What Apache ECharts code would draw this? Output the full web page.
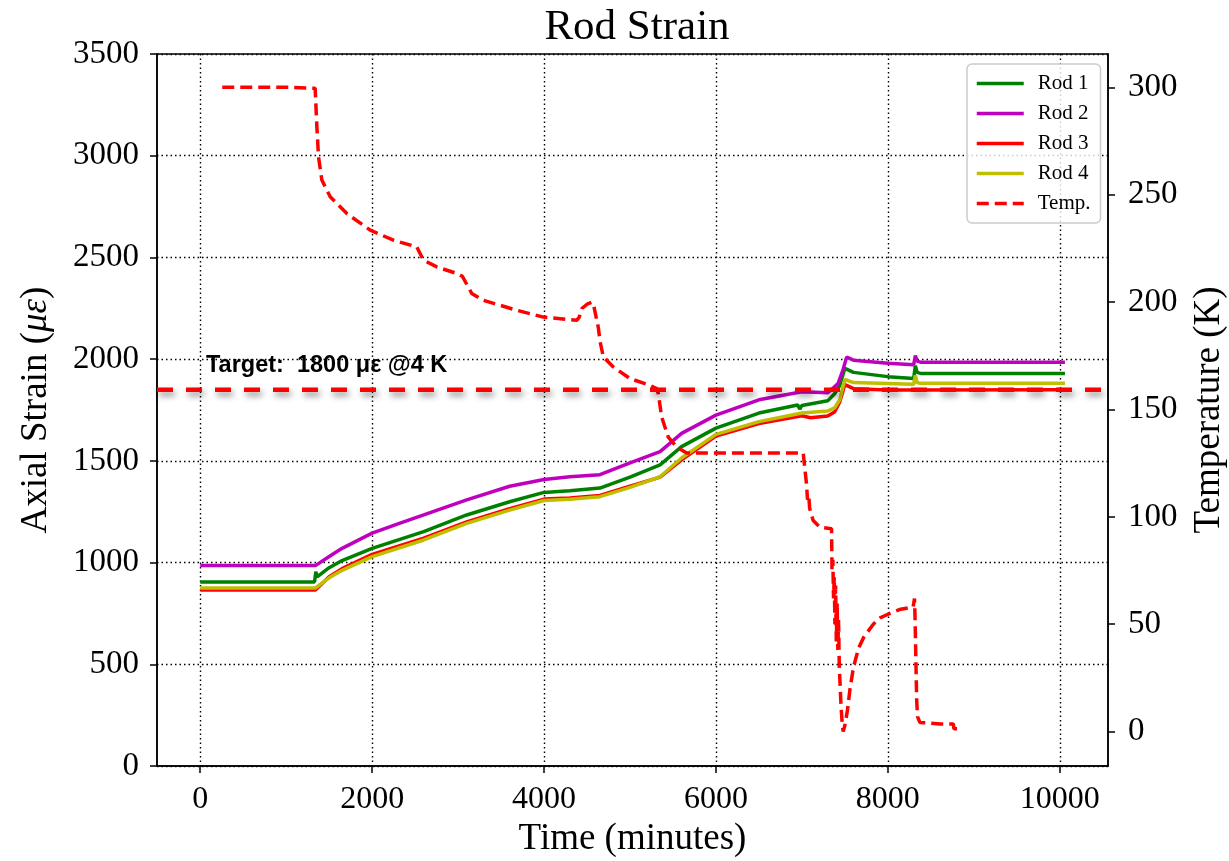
<!DOCTYPE html>
<html>
<head>
<meta charset="utf-8">
<script src="https://cdn.jsdelivr.net/npm/echarts@6/dist/echarts.min.js"></script>
<style>
html,body{margin:0;padding:0;background:#fff;}
#chart{width:1229px;height:861px;}
</style>
</head>
<body>
<div id="chart"></div>
<script>
// ---------- data ----------
const xTicks = [0, 2000, 4000, 6000, 8000, 10000];
const yLeftTicks = [0, 500, 1000, 1500, 2000, 2500, 3000, 3500];
const yRightTicks = [0, 50, 100, 150, 200, 250, 300];

const rod1Time = [0, 1330, 1345, 1360, 1380, 1500, 1650, 2000, 2600, 3100, 3600, 4000, 4300, 4650, 5000, 5350, 5600, 6000, 6500, 6950, 6975, 7000, 7300, 7380, 7440, 7500, 7600, 8000, 8300, 8320, 8340, 8380, 10060];
const rod1Strain = [905, 905, 955, 930, 925, 975, 1010, 1070, 1152, 1234, 1299, 1345, 1353, 1366, 1420, 1480, 1570, 1661, 1735, 1775, 1755, 1772, 1795, 1830, 1870, 1955, 1935, 1914, 1905, 1968, 1935, 1930, 1930];

const rod2Time = [0, 1340, 1500, 1650, 2000, 2300, 2600, 3100, 3600, 4000, 4300, 4650, 5000, 5350, 5600, 6000, 6500, 7000, 7300, 7370, 7420, 7480, 7520, 7600, 8000, 8300, 8320, 8340, 8380, 10060];
const rod2Strain = [985, 985, 1030, 1070, 1145, 1190, 1234, 1308, 1375, 1408, 1422, 1432, 1490, 1545, 1635, 1725, 1800, 1840, 1835, 1860, 1880, 1950, 2010, 1995, 1980, 1972, 2018, 1990, 1985, 1985];

const rod3Time = [0, 1340, 1500, 1650, 2000, 2600, 3100, 3600, 4000, 4300, 4650, 5000, 5350, 5600, 6000, 6500, 7000, 7100, 7300, 7380, 7440, 7500, 7600, 8000, 8300, 10060];
const rod3Strain = [865, 865, 930, 970, 1040, 1120, 1200, 1265, 1312, 1318, 1330, 1375, 1420, 1505, 1622, 1683, 1722, 1712, 1720, 1740, 1790, 1875, 1855, 1848, 1848, 1850];

const rod4Time = [0, 1340, 1500, 1650, 2000, 2600, 3100, 3600, 4000, 4300, 4650, 5000, 5350, 5600, 6000, 6500, 7000, 7300, 7380, 7440, 7500, 7600, 8000, 8300, 8320, 8340, 8380, 10060];
const rod4Strain = [875, 875, 925, 962, 1029, 1111, 1193, 1258, 1305, 1311, 1324, 1370, 1422, 1514, 1630, 1693, 1735, 1745, 1760, 1800, 1900, 1885, 1880, 1876, 1920, 1885, 1881, 1881];

const tempTime = [256, 1000, 1337, 1357, 1376, 1415, 1512, 1706, 1977, 2248, 2519, 2540, 2597, 2752, 2984, 3050, 3159, 3295, 3682, 3992, 4380, 4410, 4440, 4500, 4560, 4580, 4632, 4650, 4690, 4806, 5000, 5233, 5310, 5329, 5368, 5445, 5543, 5659, 7015, 7054, 7065, 7080, 7090, 7131, 7209, 7345, 7350, 7360, 7368, 7376, 7384, 7392, 7400, 7410, 7418, 7426, 7435, 7442, 7455, 7470, 7480, 7500, 7530, 7560, 7600, 7660, 7720, 7830, 7910, 8020, 8150, 8294, 8310, 8318, 8325, 8335, 8345, 8372, 8605, 8760, 8770, 8837];
const tempK = [300, 300, 299.5, 281.6, 267.6, 256.8, 249, 241.2, 233.5, 228.8, 225.7, 224, 219.5, 216.4, 213.3, 212, 204, 200.8, 196.2, 193, 191.5, 193, 197, 199, 200, 198, 188, 182, 174.4, 169.8, 164.4, 161.2, 159.7, 157.4, 146.5, 137.1, 132.5, 129.7, 129.7, 115, 108, 110, 104, 98.3, 95.2, 94.5, 75, 80, 62, 72, 50, 68, 42, 60, 38, 52, 30, 23.8, 12, 3, 0, 3, 10, 20, 30, 39, 44, 50, 53, 55, 57, 58, 62, 50, 35, 15, 7, 4.3, 3.6, 3.6, 1.3, 1.3];

const targetStrain = 1850;
const targetLabel = 'Target:  1800 με @4 K';

// ---------- build ----------
const pairs = (t, v) => t.map((x, i) => [x, v[i]]);
const serif = 'Liberation Serif';
const black = '#000';
const plain = v => String(v);

const chart = echarts.init(document.getElementById('chart'), null, {renderer: 'canvas'});

const rodSeries = (name, t, v, color) => ({
  name, type: 'line', data: pairs(t, v), symbol: 'none', showSymbol: false,
  yAxisIndex: 0, xAxisIndex: 0,
  lineStyle: {color, width: 3.5}, itemStyle: {color}, z: 2, silent: true
});

const option = {
  animation: false,
  backgroundColor: '#fff',
  title: {
    text: 'Rod Strain', left: 632, top: 1, textAlign: 'center',
    textStyle: {fontFamily: serif, fontSize: 43, fontWeight: 'normal', color: black}
  },
  grid: {left: 157, right: 121, top: 54, bottom: 95, containLabel: false, outerBoundsMode: 'none',
    show: true, borderColor: black, borderWidth: 1.5, backgroundColor: 'transparent'},
  legend: {
    data: ['Rod 1', 'Rod 2', 'Rod 3', 'Rod 4', 'Temp.'],
    orient: 'vertical', left: 967, top: 64,
    padding: [9, 10, 9, 8], itemWidth: 47, itemHeight: 14, itemGap: 9,
    itemStyle: {opacity: 0},
    lineStyle: {width: 3.5},
    backgroundColor: 'rgba(255,255,255,0.8)', borderColor: '#cccccc', borderWidth: 1.5, borderRadius: 5,
    textStyle: {fontFamily: serif, fontSize: 21, color: black, padding: [0, 0, 0, 9]}
  },
  xAxis: {
    type: 'value', min: -503, max: 10561,
    name: 'Time (minutes)', nameLocation: 'middle', nameGap: 49,
    nameTextStyle: {fontFamily: serif, fontSize: 37, color: black},
    axisLine: {show: true, onZero: false, lineStyle: {color: black, width: 1.5}},
    axisTick: {show: true, customValues: xTicks, length: 7, inside: false, lineStyle: {color: black, width: 1.5}},
    axisLabel: {customValues: xTicks, formatter: plain, fontFamily: serif, fontSize: 32, color: black, margin: 18},
    splitLine: {show: true, lineStyle: {color: black, width: 1.4, type: [1.5, 3]}}
  },
  yAxis: [{
    type: 'value', min: 0, max: 3500, interval: 500, position: 'left',
    name: '{n|Axial Strain (}{i|με}{n|)}', nameLocation: 'middle', nameGap: 102,
    nameTextStyle: {fontFamily: serif, fontSize: 37, color: black,
      rich: {n: {fontFamily: serif, fontSize: 37, color: black}, i: {fontFamily: serif, fontSize: 37, fontStyle: 'italic', color: black}}},
    axisLine: {show: true, onZero: false, lineStyle: {color: black, width: 1.5}},
    axisTick: {show: true, length: 7, lineStyle: {color: black, width: 1.5}},
    axisLabel: {formatter: plain, fontFamily: serif, fontSize: 33, color: black, margin: 18},
    splitLine: {show: true, lineStyle: {color: black, width: 1.4, type: [1.5, 3]}}
  }, {
    type: 'value', min: -16, max: 315.5, position: 'right',
    name: 'Temperature (K)', nameLocation: 'middle', nameGap: 83,
    nameTextStyle: {fontFamily: serif, fontSize: 37, color: black},
    axisLine: {show: true, onZero: false, lineStyle: {color: black, width: 1.5}},
    axisTick: {show: true, customValues: yRightTicks, length: 7, lineStyle: {color: black, width: 1.5}},
    axisLabel: {customValues: yRightTicks, formatter: plain, fontFamily: serif, fontSize: 33, color: black, margin: 20},
    splitLine: {show: false}
  }],
  graphic: [{
    type: 'text', left: 206, top: 354, z: 100,
    style: {text: targetLabel, fontFamily: 'Liberation Sans', fontWeight: 'bold', fontSize: 23.5, fill: black}
  }],
  series: [
    rodSeries('Rod 1', rod1Time, rod1Strain, '#008000'),
    rodSeries('Rod 2', rod2Time, rod2Strain, '#bf00bf'),
    rodSeries('Rod 3', rod3Time, rod3Strain, '#ff0000'),
    rodSeries('Rod 4', rod4Time, rod4Strain, '#bfbf00'),
    {
      name: 'Temp.', type: 'line', data: pairs(tempTime, tempK), symbol: 'none', showSymbol: false,
      yAxisIndex: 1, z: 3, silent: true,
      lineStyle: {color: '#ff0000', width: 3.5, type: [12, 6]}, itemStyle: {color: '#ff0000'}
    },
    {
      name: 'Target', type: 'line', symbol: 'none', showSymbol: false, yAxisIndex: 0, z: 4, silent: true,
      data: [[-503, targetStrain], [10561, targetStrain]],
      lineStyle: {color: '#ff0000', width: 4.5, type: [16, 13],
        shadowColor: 'rgba(0,0,0,0.45)', shadowBlur: 6, shadowOffsetX: 2, shadowOffsetY: 4},
      itemStyle: {color: '#ff0000'}
    }
  ]
};
chart.setOption(option);
</script>
</body>
</html>
